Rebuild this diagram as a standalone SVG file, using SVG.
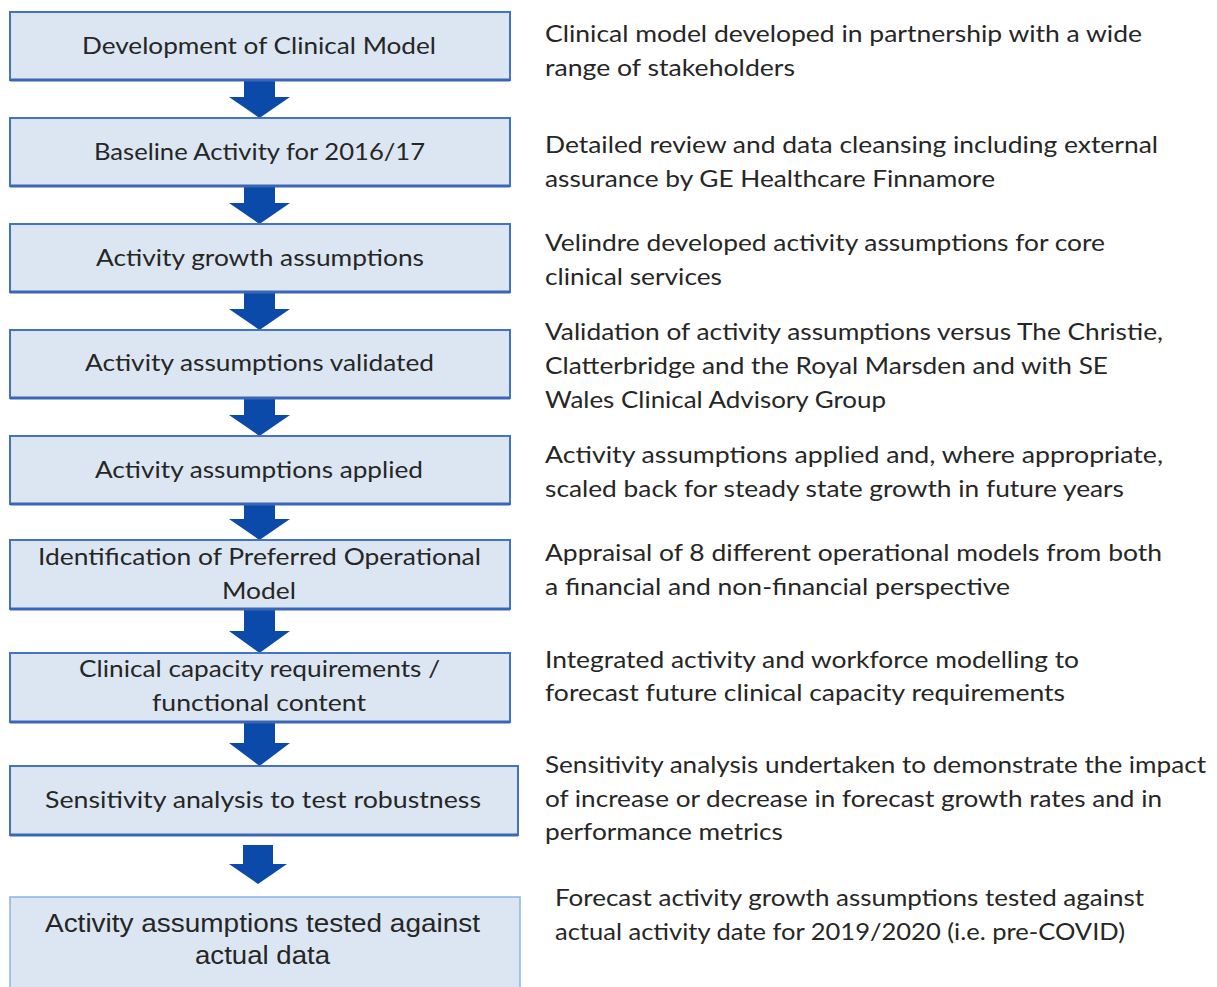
<svg xmlns="http://www.w3.org/2000/svg" width="1217" height="987" viewBox="0 0 1217 987">
<style>
.box{fill:#dce6f2;stroke:#4472c4;stroke-width:2}
.edge{stroke:#3a66b8;stroke-width:3}
.box9{fill:#dce6f2;stroke:#8db3e2;stroke-width:1.5}
.t{font-family:Lato,"Open Sans","Liberation Sans",sans-serif;font-size:23px;fill:#262626}
.c{text-anchor:middle}
.a{font-family:"Liberation Sans",Arial,sans-serif;font-size:25px;fill:#262626;text-anchor:middle}
.arr{fill:#0b4aa8}
</style>
<rect width="1217" height="987" fill="#ffffff"/>
<g id="connectors">
<path class="arr" d="M244,80 L275,80 L275,97 L290,97 L259.5,118 L229,97 L244,97 Z"/>
<path class="arr" d="M244,186 L275,186 L275,203 L290,203 L259.5,224 L229,203 L244,203 Z"/>
<path class="arr" d="M244,292 L275,292 L275,309 L290,309 L259.5,330 L229,309 L244,309 Z"/>
<path class="arr" d="M244,398 L275,398 L275,415 L290,415 L259.5,436 L229,415 L244,415 Z"/>
<path class="arr" d="M244,504 L275,504 L275,519 L290,519 L259.5,540 L229,519 L244,519 Z"/>
<path class="arr" d="M244,610 L275,610 L275,631 L290,631 L259.5,653 L229,631 L244,631 Z"/>
<path class="arr" d="M244,723 L275,723 L275,743 L290,743 L259.5,766 L229,743 L244,743 Z"/>
<path class="arr" d="M243,845 L273,845 L273,864 L287,864 L258,884 L229,864 L243,864 Z"/>
</g>
<g id="node1">
<rect class="box" x="10" y="12" width="500" height="68"/><line class="edge" x1="10" y1="80" x2="510" y2="80"/>
<text class="t c" x="259" y="54" textLength="354" lengthAdjust="spacingAndGlyphs">Development of Clinical Model</text>
<text class="t" x="545" y="42" textLength="597" lengthAdjust="spacingAndGlyphs">Clinical model developed in partnership with a wide</text>
<text class="t" x="545" y="76" textLength="250" lengthAdjust="spacingAndGlyphs">range of stakeholders</text>
</g>
<g id="node2">
<rect class="box" x="10" y="118" width="500" height="68"/><line class="edge" x1="10" y1="186" x2="510" y2="186"/>
<text class="t c" x="259.5" y="160" textLength="331" lengthAdjust="spacingAndGlyphs">Baseline Activity for 2016/17</text>
<text class="t" x="545" y="153" textLength="613" lengthAdjust="spacingAndGlyphs">Detailed review and data cleansing including external</text>
<text class="t" x="545" y="187" textLength="450" lengthAdjust="spacingAndGlyphs">assurance by GE Healthcare Finnamore</text>
</g>
<g id="node3">
<rect class="box" x="10" y="224" width="500" height="68"/><line class="edge" x1="10" y1="292" x2="510" y2="292"/>
<text class="t c" x="260" y="266" textLength="328" lengthAdjust="spacingAndGlyphs">Activity growth assumptions</text>
<text class="t" x="545" y="251" textLength="560" lengthAdjust="spacingAndGlyphs">Velindre developed activity assumptions for core</text>
<text class="t" x="545" y="285" textLength="177" lengthAdjust="spacingAndGlyphs">clinical services</text>
</g>
<g id="node4">
<rect class="box" x="10" y="330" width="500" height="68"/><line class="edge" x1="10" y1="398" x2="510" y2="398"/>
<text class="t c" x="259.5" y="371" textLength="349" lengthAdjust="spacingAndGlyphs">Activity assumptions validated</text>
<text class="t" x="545" y="340" textLength="618" lengthAdjust="spacingAndGlyphs">Validation of activity assumptions versus The Christie,</text>
<text class="t" x="545" y="374" textLength="563" lengthAdjust="spacingAndGlyphs">Clatterbridge and the Royal Marsden and with SE</text>
<text class="t" x="545" y="408" textLength="341" lengthAdjust="spacingAndGlyphs">Wales Clinical Advisory Group</text>
</g>
<g id="node5">
<rect class="box" x="10" y="436" width="500" height="68"/><line class="edge" x1="10" y1="504" x2="510" y2="504"/>
<text class="t c" x="259" y="478" textLength="328" lengthAdjust="spacingAndGlyphs">Activity assumptions applied</text>
<text class="t" x="545" y="463" textLength="618" lengthAdjust="spacingAndGlyphs">Activity assumptions applied and, where appropriate,</text>
<text class="t" x="545" y="497" textLength="579" lengthAdjust="spacingAndGlyphs">scaled back for steady state growth in future years</text>
</g>
<g id="node6">
<rect class="box" x="10" y="540" width="500" height="69"/><line class="edge" x1="10" y1="609" x2="510" y2="609"/>
<text class="t c" x="259.5" y="565" textLength="443" lengthAdjust="spacingAndGlyphs">Identification of Preferred Operational</text>
<text class="t c" x="259" y="599" textLength="74" lengthAdjust="spacingAndGlyphs">Model</text>
<text class="t" x="545" y="561" textLength="617" lengthAdjust="spacingAndGlyphs">Appraisal of 8 different operational models from both</text>
<text class="t" x="545" y="595" textLength="465" lengthAdjust="spacingAndGlyphs">a financial and non-financial perspective</text>
</g>
<g id="node7">
<rect class="box" x="10" y="653" width="500" height="69"/><line class="edge" x1="10" y1="722" x2="510" y2="722"/>
<text class="t c" x="259.5" y="677" textLength="361" lengthAdjust="spacingAndGlyphs">Clinical capacity requirements /</text>
<text class="t c" x="259" y="711" textLength="214" lengthAdjust="spacingAndGlyphs">functional content</text>
<text class="t" x="545" y="668" textLength="534" lengthAdjust="spacingAndGlyphs">Integrated activity and workforce modelling to</text>
<text class="t" x="545" y="701" textLength="520" lengthAdjust="spacingAndGlyphs">forecast future clinical capacity requirements</text>
</g>
<g id="node8">
<rect class="box" x="10" y="766" width="508" height="69"/><line class="edge" x1="10" y1="835" x2="518" y2="835"/>
<text class="t c" x="263" y="808" textLength="436" lengthAdjust="spacingAndGlyphs">Sensitivity analysis to test robustness</text>
<text class="t" x="545" y="773" textLength="661" lengthAdjust="spacingAndGlyphs">Sensitivity analysis undertaken to demonstrate the impact</text>
<text class="t" x="545" y="807" textLength="617" lengthAdjust="spacingAndGlyphs">of increase or decrease in forecast growth rates and in</text>
<text class="t" x="545" y="840" textLength="238" lengthAdjust="spacingAndGlyphs">performance metrics</text>
</g>
<g id="node9">
<rect class="box9" x="10" y="897" width="510" height="100"/>
<text class="a" x="262.5" y="932" textLength="435" lengthAdjust="spacingAndGlyphs">Activity assumptions tested against</text>
<text class="a" x="262.5" y="964" textLength="135" lengthAdjust="spacingAndGlyphs">actual data</text>
<text class="t" x="555" y="906" textLength="589" lengthAdjust="spacingAndGlyphs">Forecast activity growth assumptions tested against</text>
<text class="t" x="555" y="940" textLength="570" lengthAdjust="spacingAndGlyphs">actual activity date for 2019/2020 (i.e. pre-COVID)</text>
</g>
</svg>
